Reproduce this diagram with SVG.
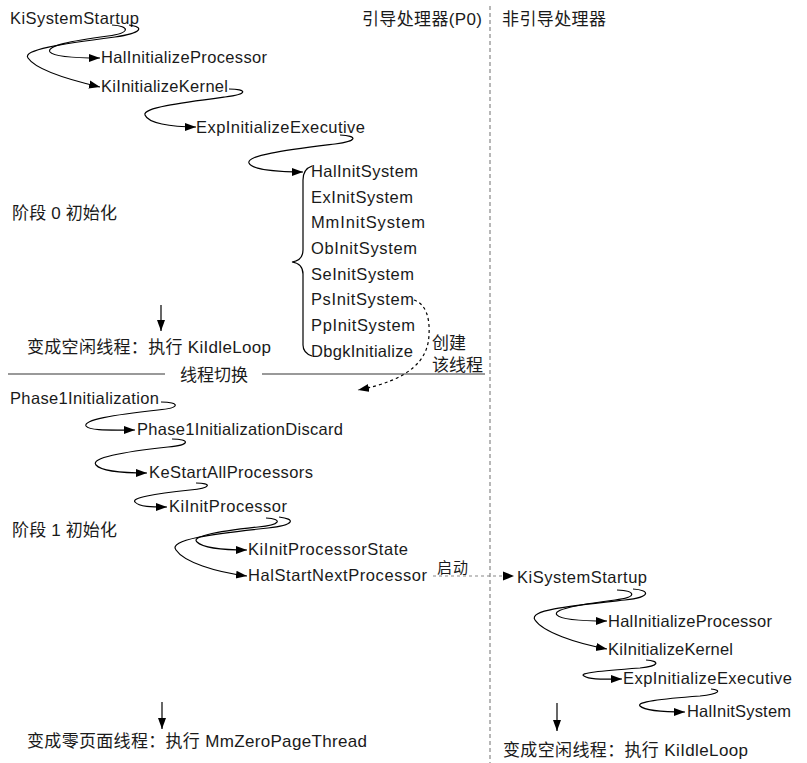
<svg xmlns="http://www.w3.org/2000/svg" width="807" height="763" viewBox="0 0 807 763">
<style>
  .fn { font-family: "Liberation Sans", Arial, sans-serif; font-size: 16.5px; fill: #1a1a1a; }
  .cn { font-family: "Liberation Sans", "Noto Sans CJK SC", sans-serif; font-size: 17px; fill: #1a1a1a; }
  .sm { font-family: "Liberation Sans", "Noto Sans CJK SC", sans-serif; font-size: 15px; fill: #1a1a1a; letter-spacing: 1px; }
  .cv { fill: none; stroke: #000; stroke-width: 1.2; }
  .dash { fill: none; stroke: #000; stroke-width: 1.2; stroke-dasharray: 3 3; }
  .gdash { fill: none; stroke: #888; stroke-width: 1.2; stroke-dasharray: 3 3; }
  .sep { stroke: #777; stroke-width: 1.6; }
  .vsep { stroke: #888; stroke-width: 1.2; stroke-dasharray: 4 3; }
</style>
<defs>
  <marker id="ah" markerWidth="12" markerHeight="10" refX="11" refY="4.5" orient="auto" markerUnits="userSpaceOnUse">
    <path d="M0,0.5 L11,4.5 L0,8.5 z" fill="#000"/>
  </marker>
</defs>
<rect width="807" height="763" fill="#fff"/>

<!-- separators -->
<g id="separators">
  <line class="vsep" x1="490" y1="6" x2="490" y2="763"/>
  <line class="sep" x1="8" y1="374" x2="165" y2="374"/>
  <line class="sep" x1="262" y1="374" x2="485" y2="374"/>
</g>

<!-- headers and annotations -->
<g id="hdr-boot"><text class="cn" x="362" y="25" textLength="120">引导处理器(P0)</text></g>
<g id="hdr-nonboot"><text class="cn" x="502" y="25" textLength="104">非引导处理器</text></g>
<g id="phase0"><text class="cn" x="12" y="219" textLength="105">阶段 0 初始化</text></g>
<g id="phase1"><text class="cn" x="12" y="536" textLength="105">阶段 1 初始化</text></g>
<g id="switch"><text class="cn" x="180" y="381">线程切换</text></g>
<g id="create"><text class="cn" x="432" y="349">创建</text><text class="cn" x="432" y="371">该线程</text></g>
<g id="start"><text class="sm" x="437" y="573">启动</text></g>
<g id="idle0"><text class="cn" x="27" y="353" textLength="244">变成空闲线程：执行 KiIdleLoop</text></g>
<g id="zero"><text class="cn" x="27" y="747" textLength="340">变成零页面线程：执行 MmZeroPageThread</text></g>
<g id="idle1"><text class="cn" x="503" y="756" textLength="245">变成空闲线程：执行 KiIdleLoop</text></g>

<!-- phase 0 nodes -->
<g id="n-kisys"><text class="fn" x="10" y="24" textLength="129">KiSystemStartup</text></g>
<g id="n-halinitproc"><text class="fn" x="101" y="63" textLength="166">HalInitializeProcessor</text></g>
<g id="n-kiinitkernel"><text class="fn" x="101" y="92" textLength="127">KiInitializeKernel</text></g>
<g id="n-expinit"><text class="fn" x="196" y="133" textLength="169">ExpInitializeExecutive</text></g>
<g id="n-halinitsys"><text class="fn" x="311" y="177" textLength="107">HalInitSystem</text></g>
<g id="n-exinit"><text class="fn" x="311" y="203" textLength="102">ExInitSystem</text></g>
<g id="n-mminit"><text class="fn" x="311" y="228" textLength="114">MmInitSystem</text></g>
<g id="n-obinit"><text class="fn" x="311" y="254" textLength="106">ObInitSystem</text></g>
<g id="n-seinit"><text class="fn" x="311" y="280" textLength="103">SeInitSystem</text></g>
<g id="n-psinit"><text class="fn" x="311" y="305" textLength="103">PsInitSystem</text></g>
<g id="n-ppinit"><text class="fn" x="311" y="331" textLength="104">PpInitSystem</text></g>
<g id="n-dbgk"><text class="fn" x="311" y="357" textLength="102">DbgkInitialize</text></g>

<!-- phase 1 nodes -->
<g id="n-phase1"><text class="fn" x="10" y="404" textLength="149">Phase1Initialization</text></g>
<g id="n-phase1d"><text class="fn" x="137" y="435" textLength="206">Phase1InitializationDiscard</text></g>
<g id="n-kestart"><text class="fn" x="149" y="478" textLength="164">KeStartAllProcessors</text></g>
<g id="n-kiinitproc"><text class="fn" x="169" y="512" textLength="118">KiInitProcessor</text></g>
<g id="n-kiinitprocstate"><text class="fn" x="248" y="555" textLength="160">KiInitProcessorState</text></g>
<g id="n-halstartnext"><text class="fn" x="248" y="581" textLength="179">HalStartNextProcessor</text></g>

<!-- non-boot nodes -->
<g id="n2-kisys"><text class="fn" x="517" y="583" textLength="130">KiSystemStartup</text></g>
<g id="n2-halinitproc"><text class="fn" x="608" y="627" textLength="164">HalInitializeProcessor</text></g>
<g id="n2-kiinitkernel"><text class="fn" x="608" y="655" textLength="125">KiInitializeKernel</text></g>
<g id="n2-expinit"><text class="fn" x="623" y="684" textLength="169">ExpInitializeExecutive</text></g>
<g id="n2-halinitsys"><text class="fn" x="687" y="717" textLength="104">HalInitSystem</text></g>

<!-- connectors -->
<g id="connectors">
  <!-- phase 0 -->
  <path class="cv" marker-end="url(#ah)" d="M112,25 C130,26 131,33 108,36 C70,41 46,46 50,52 C54,57 75,58 100,58"/>
  <path class="cv" marker-end="url(#ah)" d="M129,25 C145,27 142,33 115,37 C60,44 22,50 28,58 C36,70 70,80 100,87"/>
  <path class="cv" marker-end="url(#ah)" d="M229,89 C247,89 249,94 225,97 C180,103 142,108 145,115 C148,123 170,127 196,127"/>
  <path class="cv" marker-end="url(#ah)" d="M340,135 C358,136 358,141 335,144 C288,150 246,155 249,163 C252,170 280,172 303,172"/>
  <path class="cv" d="M312,166 C306,168 303,172 303,180 L303,250 C303,258 299,261 292,262 C299,263 303,266 303,274 L303,345 C303,351 306,354 312,356"/>
  <path class="dash" marker-end="url(#ah)" d="M414,300 C426,304 430,318 429,335 C428,360 410,380 358,390"/>
  <line class="cv" marker-end="url(#ah)" x1="161" y1="305" x2="161" y2="331"/>
  <!-- phase 1 -->
  <path class="cv" marker-end="url(#ah)" d="M161,402 C180,402 181,408 158,410 C112,415 83,420 86,426 C90,431 110,430 135,430"/>
  <path class="cv" marker-end="url(#ah)" d="M172,439 C190,439 191,445 168,447 C122,452 90,458 96,465 C101,471 125,473 147,473"/>
  <path class="cv" marker-end="url(#ah)" d="M196,483 C212,483 212,488 190,490 C153,494 131,498 135,502 C139,507 152,507 167,507"/>
  <path class="cv" marker-end="url(#ah)" d="M266,518 C283,519 281,525 258,527 C212,532 191,537 197,542 C203,548 225,550 247,550"/>
  <path class="cv" marker-end="url(#ah)" d="M279,517 C296,519 295,525 268,528 C210,534 168,540 176,550 C184,562 215,572 247,576"/>
  <line class="gdash" x1="433" y1="576" x2="504" y2="576"/>
  <path d="M503,571.5 L514,576 L503,580.5 z" fill="#000"/>
  <line class="cv" marker-end="url(#ah)" x1="162" y1="702" x2="162" y2="729"/>
  <!-- non-boot -->
  <path class="cv" marker-end="url(#ah)" d="M617,590 C636,591 638,597 615,600 C575,605 552,610 557,615 C561,620 580,621 607,621"/>
  <path class="cv" marker-end="url(#ah)" d="M633,589 C650,590 652,597 625,600 C570,606 528,610 535,620 C543,632 575,643 607,649"/>
  <path class="cv" marker-end="url(#ah)" d="M646,660 C660,661 660,666 640,668 C600,671 578,673 584,676 C590,680 605,679 622,679"/>
  <path class="cv" marker-end="url(#ah)" d="M711,689 C722,690 720,694 700,696 C660,699 636,702 640,706 C645,711 665,712 685,712"/>
  <line class="cv" marker-end="url(#ah)" x1="557" y1="703" x2="557" y2="731"/>
</g>
</svg>
